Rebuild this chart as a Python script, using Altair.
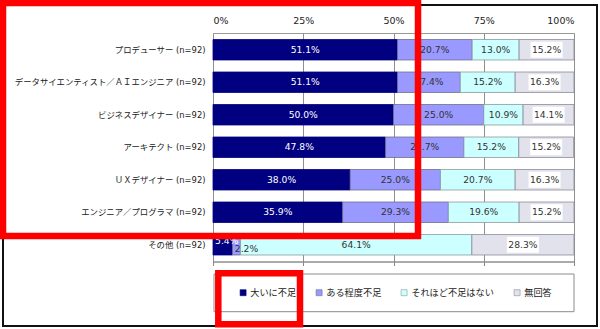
import altair as alt
import pandas as pd

JP = "DejaVu Sans, Noto Sans CJK JP"
LEG = "Noto Sans CJK JP"
NUM = "DejaVu Sans"

categories = [
    "プロデューサー (n=92)",
    "データサイエンティスト／ＡＩエンジニア (n=92)",
    "ビジネスデザイナー (n=92)",
    "アーキテクト (n=92)",
    "ＵＸデザイナー (n=92)",
    "エンジニア／プログラマ (n=92)",
    "その他 (n=92)",
]
series = ["大いに不足", "ある程度不足", "それほど不足はない", "無回答"]
v_very = [51.1, 51.1, 50.0, 47.8, 38.0, 35.9, 5.4]
v_some = [20.7, 17.4, 25.0, 21.7, 25.0, 29.3, 2.2]
v_not = [13.0, 15.2, 10.9, 15.2, 20.7, 19.6, 64.1]
v_na = [15.2, 16.3, 14.1, 15.2, 16.3, 15.2, 28.3]
fill_colors = ["#000080", "#9999FF", "#CCFFFF", "#E2E2EC"]
stroke_colors = ["#000080", "#6f6f8a", "#8a9a9a", "#8a8a9a"]
tick_values = [0, 25, 50, 75, 100]

rows = []
for ci, c in enumerate(categories):
    for si, vals in enumerate([v_very, v_some, v_not, v_na]):
        rows.append({"category": c, "series": series[si], "order": si,
                     "value": vals[ci], "label": f"{vals[ci]:.1f}%"})
df = pd.DataFrame(rows)

xs = alt.Scale(domain=[0, 100], nice=False, zero=True)
y_enc = alt.Y("category:N", sort=categories,
              scale=alt.Scale(paddingInner=0.37, paddingOuter=0.2),
              axis=alt.Axis(title=None, ticks=False, domain=False, labelFont=JP,
                            labelFontSize=8.4, labelColor="#222", labelPadding=8,
                            labelLimit=400))
x_mid = alt.X("mid:Q", scale=xs, axis=None)

base = alt.Chart(df).transform_stack(
    stack="value", groupby=["category"], as_=["v0", "v1"],
    sort=[alt.SortField("order")]
).transform_calculate(mid="(datum.v0 + datum.v1) / 2")

bars = base.mark_bar(strokeWidth=0.8).encode(
    x=alt.X("v0:Q", scale=xs,
            axis=alt.Axis(orient="top", values=tick_values, labelExpr="datum.value + '%'",
                          title=None, ticks=False, domain=False, grid=True,
                          gridColor="#8f8f8f", gridWidth=1, labelFont=NUM,
                          labelFontSize=9.5, labelColor="#222", labelPadding=8)),
    x2="v1:Q",
    y=y_enc,
    fill=alt.Fill("series:N", scale=alt.Scale(domain=series, range=fill_colors),
                  legend=alt.Legend(orient="none", legendX=25.5, legendY=255,
                                    direction="horizontal", columns=4, title=None,
                                    symbolType="square", symbolSize=36,
                                    symbolStrokeColor="#555", symbolStrokeWidth=0.6,
                                    labelFont=LEG, labelFontSize=9.2, labelColor="#222",
                                    columnPadding=18, labelOffset=2.5, padding=0)),
    stroke=alt.Stroke("series:N", scale=alt.Scale(domain=series, range=stroke_colors),
                      legend=None),
)

boxes = base.mark_point(shape="M-1,-0.5H1V0.5H-1Z", filled=True, fill="white",
                        size=32 * 32, opacity=1, strokeWidth=0).transform_filter(
    "datum.order == 3").encode(x=x_mid, y=y_enc)

other = categories[-1]
normal_labels = base.mark_text(font=NUM, fontSize=9.2).transform_filter(
    f"!(datum.category == '{other}' && datum.order < 2)"
).encode(
    x=x_mid, y=y_enc, text="label:N",
    color=alt.condition("datum.order == 0", alt.value("white"), alt.value("#333")),
)
lab_a = base.mark_text(font=NUM, fontSize=9.2, dx=4, dy=-4, color="white").transform_filter(
    f"datum.category == '{other}' && datum.order == 0"
).encode(x=x_mid, y=y_enc, text="label:N")
lab_b = base.mark_text(font=NUM, fontSize=9.2, dx=10, dy=4, color="#333").transform_filter(
    f"datum.category == '{other}' && datum.order == 1"
).encode(x=x_mid, y=y_enc, text="label:N")

bottom_axis = alt.Chart(pd.DataFrame({"v": [0]})).mark_point(opacity=0).encode(
    x=alt.X("v:Q", scale=xs,
            axis=alt.Axis(orient="bottom", values=tick_values, labels=False, ticks=True,
                          tickSize=4, tickColor="#888", domain=True, domainColor="#888",
                          grid=False, title=None)),
)

one = pd.DataFrame({"a": [1]})
legend_box = alt.Chart(one).mark_rect(filled=False, stroke="#8c8c8c", strokeWidth=1).encode(
    x=alt.value(1), x2=alt.value(361), y=alt.value(241), y2=alt.value(278.7))
frame = alt.Chart(one).mark_rect(filled=False, stroke="#111", strokeWidth=2).encode(
    x=alt.value(-210), x2=alt.value(384), y=alt.value(-28), y2=alt.value(293))
red_big = alt.Chart(one).mark_rect(filled=False, stroke="#FF0000", strokeWidth=6.5).encode(
    x=alt.value(-210), x2=alt.value(205), y=alt.value(-30), y2=alt.value(203))
red_small = alt.Chart(one).mark_rect(filled=False, stroke="#FF0000", strokeWidth=6.5).encode(
    x=alt.value(5.3), x2=alt.value(87), y=alt.value(240.3), y2=alt.value(291.3))

chart = alt.layer(
    bars, boxes, normal_labels, lab_a, lab_b, bottom_axis,
    legend_box, frame, red_big, red_small
).resolve_axis(x="independent").properties(
    width=361, height=228.5,
    autosize=alt.AutoSizeParams(type="none"),
    padding={"left": 213, "top": 33, "right": 26, "bottom": 67.5},
    background="white",
).configure_view(stroke="#9a9a9a", strokeWidth=1)

chart.save("out.html", embed_options={"renderer": "svg", "actions": False})
